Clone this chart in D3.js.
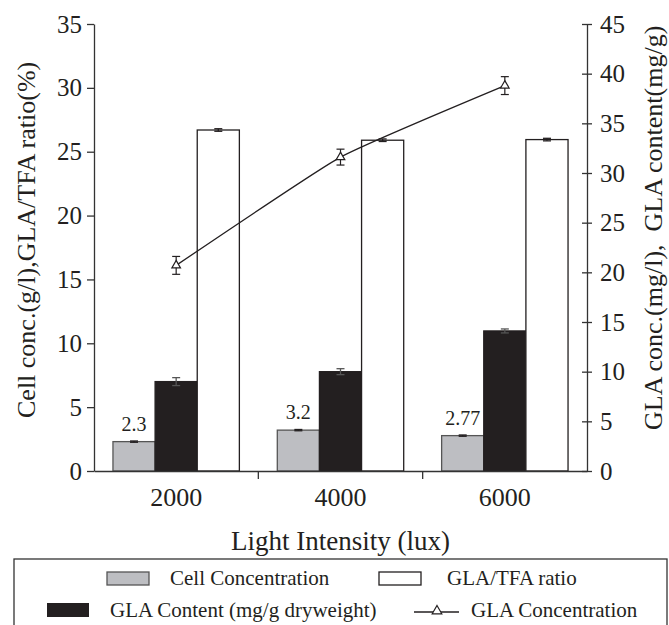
<!DOCTYPE html>
<html>
<head>
<meta charset="utf-8">
<script src="https://cdn.jsdelivr.net/npm/d3@7"></script>
<style>
    html, body { margin: 0; padding: 0; background: #fff; }
    svg { display: block; }
    svg text { font-family: "Liberation Serif", "Times New Roman", serif; }
</style>
</head>
<body>
<svg id="chart"></svg>
<script>
// данные
var categories = ["2000", "4000", "6000"];
var cellConc = [2.3, 3.2, 2.77];          // левая ось
var cellConcErr = [0.05, 0.05, 0.05];
var cellLabels = ["2.3", "3.2", "2.77"];
var glaContent = [9.0, 10.0, 14.1];       // правая ось
var glaContentErr = [0.4, 0.3, 0.2];
var glaTfaRatio = [26.7, 25.9, 25.95];    // левая ось
var glaTfaRatioErr = [0.1, 0.1, 0.1];
var glaConc = [20.7, 31.6, 38.8];         // правая ось, линия
var glaConcErr = [0.9, 0.8, 0.9];
var leftTicks = [0, 5, 10, 15, 20, 25, 30, 35];
var rightTicks = [0, 5, 10, 15, 20, 25, 30, 35, 40, 45];

var iWidth = 669, iHeight = 625;
var iLeft = 94, iRight = 587, iTop = 24, iBottom = 471;
var sInk = "#231f20";
var sSerif = "Liberation Serif";

var svg = d3.select("#chart")
    .attr("width", iWidth)
    .attr("height", iHeight);

// шкалы
var x0 = d3.scaleBand()
    .domain(categories)
    .range([iLeft, iRight]);

var x1 = d3.scaleBand()
    .domain(["cell", "content", "ratio"])
    .range([0, x0.bandwidth()])
    .paddingOuter(0.45);

var yL = d3.scaleLinear().domain([0, 35]).range([iBottom, iTop]);
var yR = d3.scaleLinear().domain([0, 45]).range([iBottom, iTop]);

// столбики
var aBars = [];
categories.forEach(function(c, i) {
    aBars.push({ cat: c, key: "cell", v: cellConc[i], e: cellConcErr[i], y: yL, fill: "#bdbec2", stroke: "#555" });
    aBars.push({ cat: c, key: "content", v: glaContent[i], e: glaContentErr[i], y: yR, fill: sInk, stroke: sInk });
    aBars.push({ cat: c, key: "ratio", v: glaTfaRatio[i], e: glaTfaRatioErr[i], y: yL, fill: "#fff", stroke: sInk });
});

var chart = svg.append("g");

chart.selectAll("rect.bar")
    .data(aBars)
    .enter()
    .append("rect")
    .attr("class", "bar")
    .attr("x", d => x0(d.cat) + x1(d.key))
    .attr("y", d => d.y(d.v))
    .attr("width", x1.bandwidth())
    .attr("height", d => iBottom - d.y(d.v))
    .attr("fill", d => d.fill)
    .attr("stroke", d => d.stroke)
    .attr("stroke-width", 1.3);

// погрешности столбиков
var errBars = chart.selectAll("g.err")
    .data(aBars)
    .enter()
    .append("g")
    .attr("class", "err")
    .attr("transform", d => `translate(${x0(d.cat) + x1(d.key) + x1.bandwidth() / 2},0)`)
    .attr("stroke", d => d.key === "content" ? "#555" : sInk)
    .attr("stroke-width", 1.3);

errBars.append("line")
    .attr("y1", d => d.y(d.v - d.e)).attr("y2", d => d.y(d.v + d.e));
errBars.append("line")
    .attr("x1", -4).attr("x2", 4)
    .attr("y1", d => d.y(d.v + d.e)).attr("y2", d => d.y(d.v + d.e));
errBars.append("line")
    .attr("x1", -4).attr("x2", 4)
    .attr("y1", d => d.y(d.v - d.e)).attr("y2", d => d.y(d.v - d.e));

// подписи над серыми столбиками
chart.selectAll("text.lbl")
    .data(categories)
    .enter()
    .append("text")
    .attr("class", "lbl")
    .attr("x", c => x0(c) + x1("cell") + x1.bandwidth() / 2)
    .attr("y", (c, i) => yL(cellConc[i]) - 11)
    .attr("text-anchor", "middle")
    .attr("font-size", 20)
    .attr("fill", sInk)
    .text((c, i) => cellLabels[i]);

// линия GLA Concentration
var line = d3.line()
    .x((v, i) => x0(categories[i]) + x0.bandwidth() / 2)
    .y(v => yR(v))
    .curve(d3.curveCardinal.tension(0.6));

chart.append("path")
    .datum(glaConc)
    .attr("d", line)
    .attr("fill", "none")
    .attr("stroke", sInk)
    .attr("stroke-width", 1.3);

var pts = chart.selectAll("g.pt")
    .data(glaConc)
    .enter()
    .append("g")
    .attr("class", "pt")
    .attr("transform", (v, i) => `translate(${x0(categories[i]) + x0.bandwidth() / 2},0)`)
    .attr("stroke", sInk)
    .attr("stroke-width", 1.2);

pts.append("line")
    .attr("y1", (v, i) => yR(v - glaConcErr[i])).attr("y2", (v, i) => yR(v + glaConcErr[i]));
pts.append("line")
    .attr("x1", -4).attr("x2", 4)
    .attr("y1", (v, i) => yR(v + glaConcErr[i])).attr("y2", (v, i) => yR(v + glaConcErr[i]));
pts.append("line")
    .attr("x1", -4).attr("x2", 4)
    .attr("y1", (v, i) => yR(v - glaConcErr[i])).attr("y2", (v, i) => yR(v - glaConcErr[i]));
pts.append("path")
    .attr("transform", v => `translate(0,${yR(v)})`)
    .attr("d", d3.symbol(d3.symbolTriangle, 32))
    .attr("fill", "#fff");

// оси
var axisL = svg.append("g")
    .attr("transform", `translate(${iLeft},0)`)
    .call(d3.axisLeft(yL).tickValues(leftTicks).tickSizeInner(7).tickSizeOuter(0).tickPadding(5));

var axisR = svg.append("g")
    .attr("transform", `translate(${iRight},0)`)
    .call(d3.axisRight(yR).tickValues(rightTicks).tickSizeInner(5).tickSizeOuter(0).tickPadding(8));
axisR.selectAll(".tick line").attr("x1", -5);

var axisB = svg.append("g")
    .attr("transform", `translate(0,${iBottom})`)
    .call(d3.axisBottom(x0).tickSize(0).tickPadding(17));

// разделители категорий на оси x
axisB.selectAll("line.sep")
    .data(categories.slice(1))
    .enter()
    .append("line")
    .attr("class", "sep")
    .attr("x1", c => x0(c)).attr("x2", c => x0(c))
    .attr("y1", 0).attr("y2", 8);

[axisL, axisR, axisB].forEach(function(a) {
    a.attr("font-family", sSerif);
    a.selectAll("path, line").attr("stroke", "#333").attr("stroke-width", 1.3);
    a.selectAll("text").attr("fill", sInk).attr("font-family", sSerif);
});
axisL.attr("font-size", 25);
axisR.attr("font-size", 25);
axisB.attr("font-size", 26);

// подписи осей
svg.append("text")
    .attr("x", (iLeft + iRight) / 2)
    .attr("y", 550)
    .attr("text-anchor", "middle")
    .attr("font-size", 27)
    .attr("fill", sInk)
    .text("Light Intensity (lux)");

svg.append("text")
    .attr("transform", "translate(35,418) rotate(-90)")
    .attr("font-size", 26)
    .attr("fill", sInk)
    .text("Cell conc.(g/l),GLA/TFA ratio(%)");

svg.append("text")
    .attr("transform", "translate(662,430) rotate(-90)")
    .attr("font-size", 26)
    .attr("fill", sInk)
    .style("white-space", "pre")
    .text("GLA conc.(mg/l),  GLA content(mg/g)");

// легенда
var legend = svg.append("g")
    .attr("font-size", 21)
    .attr("fill", sInk);

legend.append("rect")
    .attr("x", 14).attr("y", 559)
    .attr("width", 653).attr("height", 100)
    .attr("fill", "none")
    .attr("stroke", "#333")
    .attr("stroke-width", 1.3);

legend.append("rect").attr("x", 107).attr("y", 572).attr("width", 42).attr("height", 13)
    .attr("fill", "#bdbec2").attr("stroke", "#555").attr("stroke-width", 1.3);
legend.append("text").attr("x", 170).attr("y", 585).text("Cell Concentration");

legend.append("rect").attr("x", 379).attr("y", 572).attr("width", 42).attr("height", 13)
    .attr("fill", "#fff").attr("stroke", sInk).attr("stroke-width", 1.3);
legend.append("text").attr("x", 447).attr("y", 585).text("GLA/TFA ratio");

legend.append("rect").attr("x", 47).attr("y", 603).attr("width", 42).attr("height", 14)
    .attr("fill", sInk);
legend.append("text").attr("x", 110).attr("y", 617).text("GLA Content (mg/g dryweight)");

legend.append("line").attr("x1", 414).attr("x2", 459).attr("y1", 612).attr("y2", 612)
    .attr("stroke", sInk).attr("stroke-width", 1.3);
legend.append("path")
    .attr("transform", "translate(437,611)")
    .attr("d", d3.symbol(d3.symbolTriangle, 40))
    .attr("fill", "#fff").attr("stroke", sInk).attr("stroke-width", 1.2);
legend.append("text").attr("x", 471).attr("y", 617).text("GLA Concentration");
</script>
</body>
</html>
